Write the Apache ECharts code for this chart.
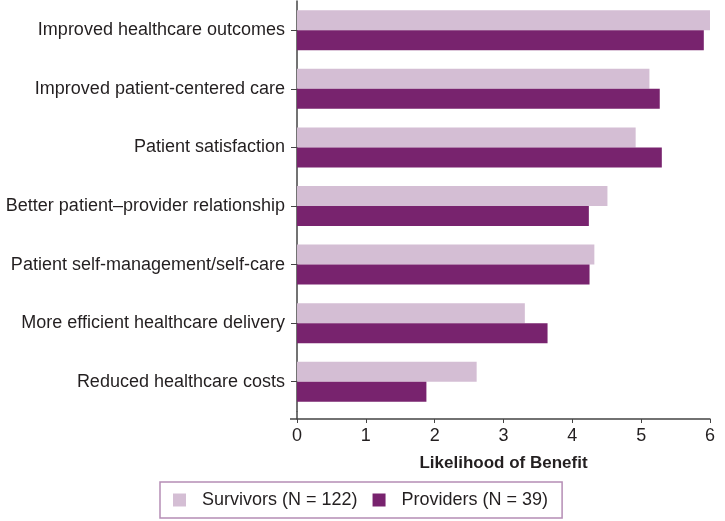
<!DOCTYPE html>
<html>
<head>
<meta charset="utf-8">
<script src="https://cdn.jsdelivr.net/npm/echarts@6/dist/echarts.min.js"></script>
<style>
  html, body { margin: 0; padding: 0; background: #fff; }
  #chart { width: 725px; height: 521px; }
</style>
</head>
<body>
<div id="chart"></div>
<script>
const categories = [
  "Improved healthcare outcomes",
  "Improved patient-centered care",
  "Patient satisfaction",
  "Better patient\u2013provider relationship",
  "Patient self-management/self-care",
  "More efficient healthcare delivery",
  "Reduced healthcare costs"
];
const survivors = [6.0, 5.12, 4.92, 4.51, 4.32, 3.31, 2.61];
const providers = [5.91, 5.27, 5.30, 4.24, 4.25, 3.64, 1.88];
const xTicks = [0, 1, 2, 3, 4, 5, 6];

const chart = echarts.init(document.getElementById("chart"));
const font = "'Liberation Sans', Arial, sans-serif";
const ink = "#231f20";

const option = {
  animation: false,
  textStyle: { fontFamily: font },
  grid: { left: 297, right: 15, top: 1, height: 410 },
  xAxis: {
    type: "value",
    min: xTicks[0],
    max: xTicks[xTicks.length - 1],
    interval: 1,
    offset: 8,
    splitLine: { show: false },
    axisLine: { show: true, lineStyle: { color: "#444", width: 1.5 } },
    axisTick: { show: true, length: 4, lineStyle: { color: "#444" } },
    axisLabel: { color: ink, fontSize: 18, margin: 8, fontFamily: font },
    name: "Likelihood of Benefit",
    nameLocation: "middle",
    nameGap: 36,
    nameTextStyle: { color: ink, fontSize: 17, fontWeight: "bold", fontFamily: font }
  },
  yAxis: {
    type: "category",
    data: categories,
    inverse: true,
    axisLine: { show: true, lineStyle: { color: "#444", width: 1.5 } },
    axisTick: { show: true, alignWithLabel: true, length: 6, lineStyle: { color: "#444" } },
    axisLabel: { color: ink, fontSize: 18, margin: 12, fontFamily: font }
  },
  legend: {
    left: 160,
    top: 482,
    orient: "horizontal",
    padding: [9, 14, 9, 13],
    borderColor: "#b58db5",
    borderWidth: 1.5,
    itemWidth: 13,
    itemHeight: 13,
    itemGap: 15,
    icon: "rect",
    textStyle: { color: ink, fontSize: 18, fontFamily: font, padding: [0, 0, 0, 11] },
    data: ["Survivors (N = 122)", "Providers (N = 39)"]
  },
  graphic: [
    { type: "line", shape: { x1: 297, y1: 411, x2: 297, y2: 419 }, style: { stroke: "#444", lineWidth: 1.5 } },
    { type: "line", shape: { x1: 290, y1: 419, x2: 297, y2: 419 }, style: { stroke: "#444", lineWidth: 1.5 } }
  ],
  series: [
    {
      name: "Survivors (N = 122)",
      type: "bar",
      data: survivors,
      barWidth: 20,
      barGap: "0%",
      itemStyle: { color: "#d4bed4" }
    },
    {
      name: "Providers (N = 39)",
      type: "bar",
      data: providers,
      barWidth: 20,
      barGap: "0%",
      itemStyle: { color: "#78236e" }
    }
  ]
};

chart.setOption(option);
</script>
</body>
</html>
